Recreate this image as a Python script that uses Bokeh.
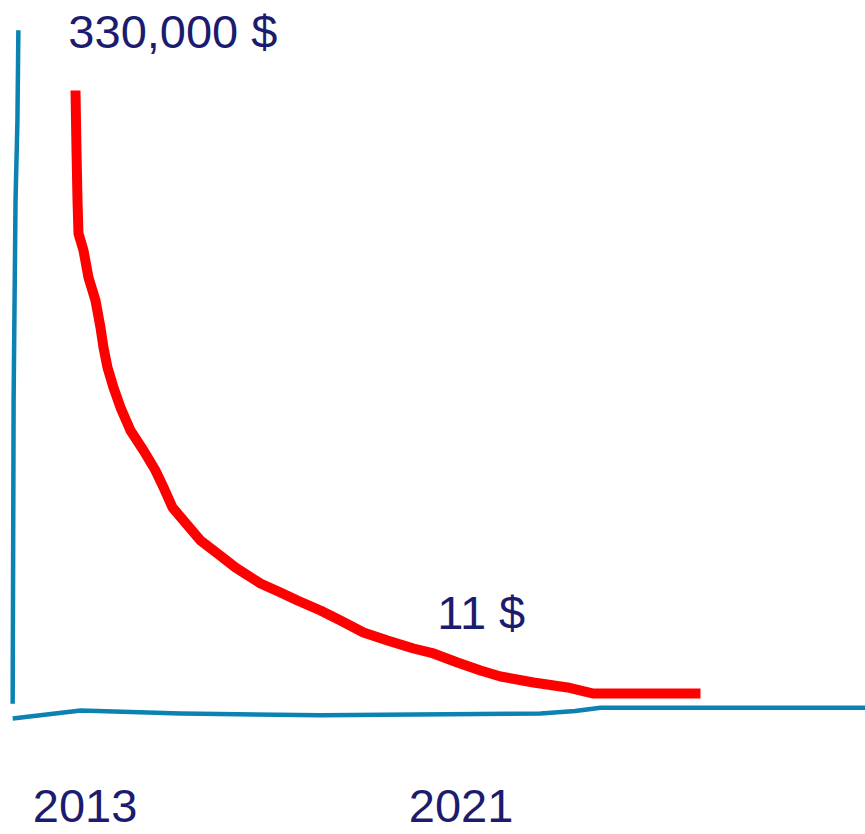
from bokeh.plotting import figure
from bokeh.models import Range1d
from bokeh.core.properties import value
from bokeh.embed import file_html
from bokeh.resources import INLINE

# Price curve (years, relative value 0-100)
years = [2013.000, 2013.021, 2013.042, 2013.063, 2013.168, 2013.273, 2013.420,
         2013.525, 2013.588, 2013.672, 2013.798, 2013.945, 2014.155, 2014.429,
         2014.681, 2014.849, 2015.038, 2015.269, 2015.626, 2015.983, 2016.361,
         2016.887, 2017.307, 2017.664, 2018.147, 2018.567, 2019.050, 2019.555,
         2020.101, 2020.521, 2021.025, 2021.508, 2021.929, 2022.622, 2023.336,
         2023.882, 2026.130]
values = [100.00, 90.24, 82.11, 76.75, 73.98, 69.59, 65.85,
          61.46, 58.21, 54.96, 51.71, 48.46, 44.72, 41.46,
          38.21, 35.45, 32.20, 30.08, 26.83, 24.72, 22.44,
          19.84, 18.37, 17.07, 15.45, 13.82, 11.87, 10.57,
          9.27, 8.46, 6.99, 5.69, 4.72, 3.74, 2.93,
          1.95, 1.95]

# Hand-drawn axes
yaxis_x = [2011.80, 2011.78, 2011.74, 2011.70, 2011.68]
yaxis_y = [109.8, 95.1, 82.1, 49.6, 0.3]
xaxis_x = [2011.68, 2013.11, 2015.21, 2018.15, 2022.77, 2023.50, 2024.03, 2029.60]
xaxis_y = [-2.1, -0.8, -1.3, -1.6, -1.3, -0.9, -0.35, -0.35]

# Annotations
labels = ["330,000 $", "11 $"]
label_x = [2012.85, 2020.60]
label_y = [109.6, 15.2]
tick_labels = ["2013", "2021"]
tick_x = [2013.20, 2021.10]
tick_y = [-16.4, -16.4]

p = figure(width=865, height=834, output_backend="svg", toolbar_location=None,
           x_range=Range1d(2011.4244, 2029.5966), y_range=Range1d(-20.976, 114.634),
           min_border=0, outline_line_color=None)
p.axis.visible = False
p.grid.visible = False
p.background_fill_color = "white"
p.border_fill_color = "white"

blue = "#0b82b1"
p.line(yaxis_x, yaxis_y, line_color=blue, line_width=4.5, line_join="round")
p.line(xaxis_x, xaxis_y, line_color=blue, line_width=4.5, line_join="round")

p.line(years, values, line_color="#ff0000", line_width=10, line_join="round")

navy = "#1b1b6f"
p.text(x=label_x, y=label_y, text=labels, text_color=navy,
       text_font=value("Liberation Sans"), text_font_size="47px",
       text_baseline="alphabetic", text_align="left")
p.text(x=tick_x, y=tick_y, text=tick_labels, text_color=navy,
       text_font=value("Liberation Sans"), text_font_size="47px",
       text_baseline="alphabetic", text_align="center")

open("out.html", "w").write(file_html(p, INLINE))
